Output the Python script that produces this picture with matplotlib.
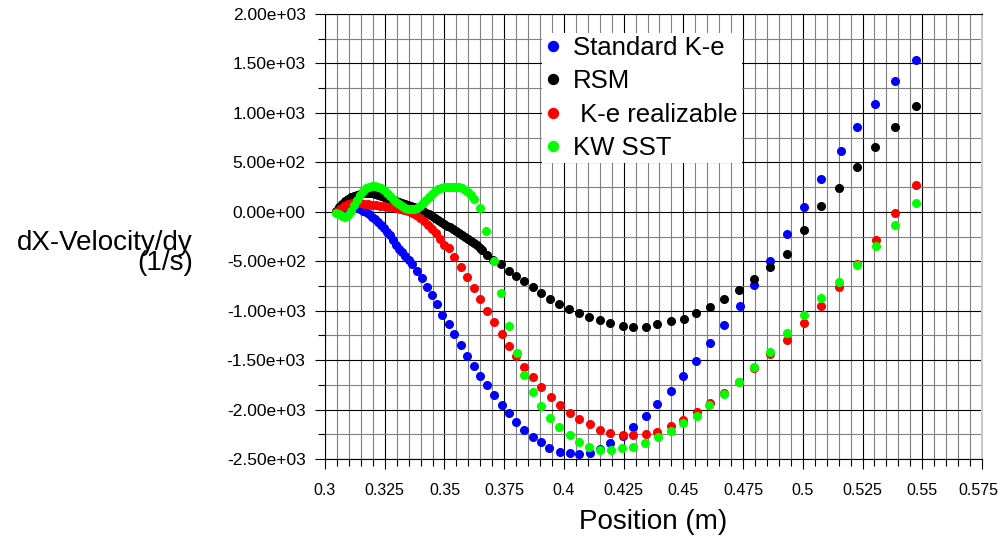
import matplotlib
matplotlib.use('Agg')
import matplotlib.pyplot as plt
from matplotlib.ticker import MultipleLocator, FuncFormatter
from matplotlib.patches import Rectangle
from matplotlib.transforms import ScaledTranslation

plt.rcParams['font.family'] = ['Liberation Sans', 'DejaVu Sans']

# ---------------- data ----------------
std_x = [0.3046, 0.3059, 0.3071, 0.3084, 0.3096, 0.3109, 0.3121, 0.3134, 0.3147, 0.3159,
         0.3172, 0.3184, 0.3197, 0.3209, 0.3222, 0.3234, 0.3247, 0.3260, 0.3272, 0.3285,
         0.3297, 0.3310, 0.3322, 0.3335, 0.3352, 0.3364, 0.3385, 0.3406, 0.3427, 0.3448,
         0.3469, 0.3490, 0.3519, 0.3540, 0.3569, 0.3594, 0.3624, 0.3649, 0.3678, 0.3707,
         0.3741, 0.3770, 0.3800, 0.3833, 0.3871, 0.3904, 0.3938, 0.3984, 0.4026, 0.4063,
         0.4109, 0.4151, 0.4193, 0.4247, 0.4289, 0.4344, 0.4390, 0.4448, 0.4499, 0.4553,
         0.4612, 0.4670, 0.4737, 0.4796, 0.4863, 0.4934, 0.5005, 0.5076, 0.5160, 0.5227,
         0.5302, 0.5386, 0.5474]
std_y = [0, 20, 30, 40, 51, 51, 51, 40, 30, 10,
         0, -20, -51, -71, -101, -131, -162, -202, -233, -283,
         -340, -375, -410, -445, -490, -530, -597, -667, -758, -839,
         -930, -1041, -1132, -1233, -1345, -1456, -1557, -1658, -1749, -1850,
         -1951, -2032, -2123, -2204, -2275, -2325, -2386, -2426, -2436, -2446,
         -2436, -2396, -2335, -2265, -2174, -2063, -1941, -1810, -1658, -1507,
         -1325, -1143, -951, -738, -496, -223, 51, 334, 617, 859,
         1092, 1324, 1537]

rsm_x = [0.3046, 0.3059, 0.3071, 0.3084, 0.3096, 0.3109, 0.3121, 0.3134, 0.3147, 0.3159,
         0.3172, 0.3184, 0.3197, 0.3209, 0.3222, 0.3234, 0.3247, 0.3260, 0.3272, 0.3285,
         0.3297, 0.3310, 0.3322, 0.3335, 0.3347, 0.3360, 0.3373, 0.3385, 0.3398, 0.3410,
         0.3423, 0.3435, 0.3448, 0.3461, 0.3473, 0.3486, 0.3498, 0.3511, 0.3523, 0.3536,
         0.3548, 0.3561, 0.3573, 0.3586, 0.3599, 0.3611, 0.3624, 0.3636, 0.3649, 0.3657,
         0.3678, 0.3703, 0.3737, 0.3770, 0.3800, 0.3833, 0.3871, 0.3904, 0.3942, 0.3980,
         0.4021, 0.4063, 0.4105, 0.4151, 0.4193, 0.4247, 0.4289, 0.4344, 0.4390, 0.4448,
         0.4503, 0.4553, 0.4612, 0.4670, 0.4733, 0.4796, 0.4863, 0.4934, 0.5005, 0.5076,
         0.5152, 0.5227, 0.5302, 0.5386, 0.5474]
rsm_y = [10, 51, 81, 111, 131, 152, 162, 172, 182, 192,
         192, 192, 192, 182, 172, 162, 152, 142, 131, 121,
         111, 101, 91, 81, 71, 61, 51, 40, 20, 10,
         -10, -20, -40, -61, -81, -101, -121, -142, -152, -172,
         -192, -212, -233, -253, -273, -293, -313, -334, -364, -384,
         -435, -485, -526, -597, -647, -698, -758, -819, -879, -930,
         -980, -1021, -1061, -1092, -1122, -1152, -1163, -1163, -1132, -1102,
         -1082, -1021, -960, -880, -789, -678, -556, -425, -182, 61,
         243, 455, 657, 859, 1072]

rke_x = [0.3046, 0.3063, 0.3080, 0.3096, 0.3113, 0.3130, 0.3147, 0.3163, 0.3180, 0.3197,
         0.3213, 0.3230, 0.3247, 0.3264, 0.3280, 0.3297, 0.3314, 0.3331, 0.3347, 0.3364,
         0.3381, 0.3398, 0.3414, 0.3431, 0.3448, 0.3465, 0.3481, 0.3498, 0.3519, 0.3540,
         0.3569, 0.3594, 0.3624, 0.3649, 0.3678, 0.3707, 0.3741, 0.3770, 0.3800, 0.3833,
         0.3871, 0.3904, 0.3946, 0.3984, 0.4026, 0.4063, 0.4109, 0.4151, 0.4193, 0.4247,
         0.4289, 0.4344, 0.4390, 0.4448, 0.4499, 0.4557, 0.4612, 0.4670, 0.4733, 0.4796,
         0.4863, 0.4934, 0.5005, 0.5076, 0.5152, 0.5227, 0.5306, 0.5386, 0.5474]
rke_y = [0, 30, 61, 81, 91, 91, 91, 81, 81, 71,
         71, 61, 61, 51, 51, 40, 30, 20, 10, -10,
         -30, -61, -91, -131, -172, -212, -273, -334, -364, -455,
         -556, -657, -768, -880, -1001, -1112, -1233, -1355, -1456, -1567,
         -1668, -1769, -1870, -1951, -2032, -2093, -2143, -2204, -2234, -2254,
         -2254, -2244, -2224, -2164, -2103, -2022, -1931, -1830, -1719, -1577,
         -1436, -1294, -1122, -950, -758, -526, -283, -10, 273]

kw_x = [0.3046, 0.3059, 0.3071, 0.3084, 0.3096, 0.3109, 0.3121, 0.3134, 0.3147, 0.3159,
        0.3172, 0.3184, 0.3197, 0.3209, 0.3222, 0.3234, 0.3247, 0.3260, 0.3272, 0.3285,
        0.3297, 0.3310, 0.3322, 0.3335, 0.3347, 0.3360, 0.3373, 0.3385, 0.3398, 0.3410,
        0.3423, 0.3435, 0.3448, 0.3461, 0.3473, 0.3486, 0.3498, 0.3511, 0.3523, 0.3536,
        0.3548, 0.3561, 0.3573, 0.3586, 0.3599, 0.3611, 0.3624, 0.3649, 0.3674, 0.3707,
        0.3737, 0.3770, 0.3804, 0.3833, 0.3871, 0.3904, 0.3942, 0.3980, 0.4026, 0.4063,
        0.4105, 0.4151, 0.4197, 0.4243, 0.4289, 0.4340, 0.4394, 0.4448, 0.4499, 0.4557,
        0.4607, 0.4670, 0.4733, 0.4796, 0.4863, 0.4934, 0.5005, 0.5076, 0.5152, 0.5227,
        0.5306, 0.5386, 0.5474]
kw_y = [-10, -20, -40, -51, -30, 10, 71, 121, 172, 212,
        243, 253, 263, 263, 253, 243, 222, 192, 162, 131,
        101, 81, 61, 40, 30, 30, 30, 40, 61, 91,
        121, 152, 182, 212, 233, 243, 253, 253, 253, 253,
        253, 253, 243, 222, 202, 172, 131, 40, -192, -495,
        -819, -1152, -1425, -1648, -1820, -1961, -2083, -2174, -2254, -2325,
        -2376, -2406, -2406, -2386, -2376, -2335, -2275, -2214, -2133, -2063,
        -1951, -1840, -1719, -1567, -1416, -1223, -1041, -869, -708, -536,
        -344, -131, 91]

series_labels = ['Standard K-e', 'RSM', ' K-e realizable', 'KW SST']
series_colors = ['#0000ff', '#000000', '#ff0000', '#00ff00']

x_ticks = [0.3, 0.325, 0.35, 0.375, 0.4, 0.425, 0.45, 0.475, 0.5, 0.525, 0.55, 0.575]
x_tick_labels = ['0.3', '0.325', '0.35', '0.375', '0.4', '0.425', '0.45', '0.475',
                 '0.5', '0.525', '0.55', '0.575']
y_ticks = [2000, 1500, 1000, 500, 0, -500, -1000, -1500, -2000, -2500]

# ---------------- figure ----------------
W, H = 1002, 537
fig = plt.figure(figsize=(W / 100, H / 100), dpi=100)
ax = fig.add_axes([325 / W, 78 / H, 657 / W, 445 / H])

for xs, ys, lab, col in zip([std_x, rsm_x, rke_x, kw_x], [std_y, rsm_y, rke_y, kw_y],
                            series_labels, series_colors):
    ax.plot(xs, ys, linestyle='none', marker='o', ms=5.5, color=col, mec=col,
            label=lab, zorder=4, clip_on=False)

ax.set_xlim(0.3, 0.575)
ax.set_ylim(-2500, 2000)
ax.set_xticks(x_ticks)
ax.set_xticklabels(x_tick_labels)
ax.xaxis.set_minor_locator(MultipleLocator(0.005))
ax.set_yticks(y_ticks)
ax.yaxis.set_major_formatter(FuncFormatter(lambda v, p: f"{v:.2e}"))
ax.yaxis.set_minor_locator(MultipleLocator(250))

ax.set_axisbelow(True)
ax.grid(which='major', color='#000000', linewidth=0.8)
ax.grid(which='minor', color='#808080', linewidth=0.8)

ax.tick_params(which='both', direction='out', color='black', width=0.8,
               labelcolor='#000000')
ax.tick_params(axis='y', labelsize=12.5)
ax.tick_params(axis='x', labelsize=11.5)
ax.tick_params(which='major', length=7)
ax.tick_params(which='minor', length=5)
ax.tick_params(axis='y', which='both', pad=7)
ax.tick_params(axis='x', which='both', pad=10)

# keep the last x label inside the canvas
last = ax.get_xticklabels()[-1]
last.set_transform(last.get_transform() + ScaledTranslation(-4 / 100, 0, fig.dpi_scale_trans))

for s in ['left', 'bottom', 'top']:
    ax.spines[s].set_color('black')
    ax.spines[s].set_linewidth(0.8)
ax.spines['right'].set_color('#c8c8c8')
ax.spines['right'].set_linewidth(1.5)

ax.set_xlabel('Position (m)', fontsize=20, labelpad=8)
fig.text(193 / W, 1 - 253 / H, 'dX-Velocity/dy\n(1/s)', ha='right', va='center',
         multialignment='right', fontsize=20, linespacing=0.75)

# legend: white box without border
ax.add_patch(Rectangle(((542 - 325) / 657, (459 - 163) / 445), 200 / 657, 130 / 445,
                       transform=ax.transAxes, facecolor='white', edgecolor='none',
                       zorder=5))
leg = ax.legend(loc='upper left', bbox_to_anchor=((543 - 325) / 657, (459 - 36) / 445),
                frameon=False, fontsize=18.5, borderpad=0, borderaxespad=0,
                handlelength=0.8, handletextpad=0.35, labelspacing=0.36,
                markerscale=1.3)
leg.set_zorder(6)

fig.savefig('out.png', dpi=100)
